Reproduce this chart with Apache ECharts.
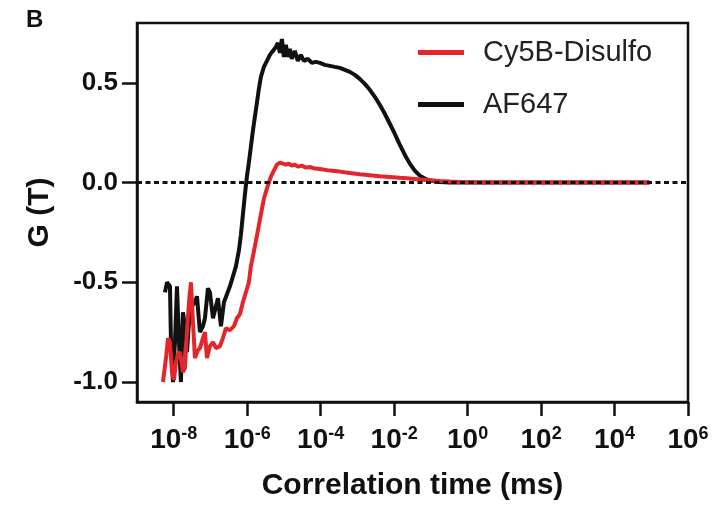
<!DOCTYPE html>
<html>
<head>
<meta charset="utf-8">
<script src="https://cdn.jsdelivr.net/npm/echarts@6/dist/echarts.min.js"></script>
<style>
  html, body { margin: 0; padding: 0; background: #fff; }
  #chart { width: 718px; height: 506px; }
</style>
</head>
<body>
<div id="chart"></div>
<script>
// correlation time (ms) and G(T)
const cyTime = [5.10e-9, 6.15e-9, 6.97e-9, 7.90e-9, 8.96e-9, 1.015e-8, 1.15e-8, 1.30e-8, 1.48e-8, 1.78e-8,
  2.02e-8, 2.29e-8, 2.60e-8, 2.94e-8, 3.34e-8, 3.78e-8, 4.56e-8, 5.17e-8, 6.24e-8, 7.07e-8,
  8.02e-8, 9.67e-8, 1.17e-7, 1.41e-7, 1.81e-7, 2.18e-7, 2.64e-7, 3.39e-7, 4.35e-7, 5.25e-7,
  6.33e-7, 7.64e-7, 9.22e-7, 1.11e-6, 1.26e-6, 1.43e-6, 1.62e-6, 1.96e-6, 2.36e-6, 2.85e-6,
  3.44e-6, 3.89e-6, 4.41e-6, 5.00e-6, 5.67e-6, 6.43e-6, 7.76e-6, 9.36e-6, 1.13e-5, 1.36e-5,
  1.64e-5, 1.98e-5, 2.39e-5, 3.08e-5, 3.95e-5, 5.08e-5, 6.95e-5, 9.50e-5, 1.78e-4, 3.33e-4,
  6.22e-4, 1.16e-3, 2.18e-3, 4.07e-3, 7.62e-3, 1.42e-2, 2.67e-2, 4.99e-2, 9.33e-2, 0.174,
  0.326, 0.611, 2.14, 7.47, 171, 3940, 9.0e4]
const cyG = [-1.00, -0.88, -0.78, -0.80, -0.95, -0.99, -0.90, -0.86, -0.85, -0.95,
  -0.93, -0.75, -0.60, -0.50, -0.70, -0.88, -0.84, -0.83, -0.78, -0.75,
  -0.88, -0.82, -0.80, -0.83, -0.82, -0.78, -0.73, -0.74, -0.72, -0.68,
  -0.66, -0.60, -0.55, -0.50, -0.42, -0.37, -0.32, -0.24, -0.16, -0.08,
  -0.03, 0.00, 0.03, 0.05, 0.07, 0.09, 0.10, 0.095, 0.09, 0.095,
  0.085, 0.09, 0.08, 0.085, 0.075, 0.078, 0.07, 0.068, 0.06, 0.055,
  0.048, 0.042, 0.037, 0.032, 0.028, 0.024, 0.02, 0.016, 0.012, 0.008,
  0.005, 0.003, 0.001, 0, 0, 0, 0]

const afTime = [5.78e-9, 6.55e-9, 7.90e-9, 8.41e-9, 9.53e-9, 1.08e-8, 1.225e-8, 1.39e-8, 1.57e-8, 1.78e-8,
  2.02e-8, 2.29e-8, 2.60e-8, 3.13e-8, 3.78e-8, 4.29e-8, 5.17e-8, 6.24e-8, 7.07e-8, 8.54e-8,
  9.67e-8, 1.17e-7, 1.41e-7, 1.60e-7, 1.93e-7, 2.33e-7, 2.81e-7, 3.39e-7, 4.09e-7, 4.93e-7,
  5.95e-7, 6.75e-7, 7.64e-7, 8.67e-7, 9.82e-7, 1.11e-6, 1.26e-6, 1.43e-6, 1.62e-6, 1.84e-6,
  2.08e-6, 2.36e-6, 2.85e-6, 3.44e-6, 4.15e-6, 5.00e-6, 6.04e-6, 6.84e-6, 7.76e-6, 8.79e-6,
  9.97e-6, 1.13e-5, 1.28e-5, 1.45e-5, 1.64e-5, 1.98e-5, 2.39e-5, 2.89e-5, 3.49e-5, 4.48e-5,
  5.76e-5, 7.39e-5, 9.50e-5, 1.30e-4, 1.78e-4, 2.43e-4, 3.33e-4, 4.55e-4, 6.22e-4, 8.51e-4,
  1.16e-3, 1.59e-3, 2.18e-3, 2.98e-3, 4.07e-3, 5.57e-3, 7.62e-3, 1.04e-2, 1.42e-2, 1.95e-2,
  2.67e-2, 3.65e-2, 4.99e-2, 6.82e-2, 9.33e-2, 0.174, 0.326, 7.47, 171, 3940, 9.0e4]
const afG = [-0.55, -0.50, -0.52, -0.80, -1.00, -0.80, -0.52, -0.80, -1.00, -0.65,
  -0.72, -0.85, -0.70, -0.62, -0.60, -0.57, -0.75, -0.72, -0.68, -0.53,
  -0.55, -0.68, -0.62, -0.58, -0.72, -0.60, -0.56, -0.52, -0.47, -0.42,
  -0.34, -0.26, -0.16, -0.06, 0.03, 0.10, 0.18, 0.26, 0.33, 0.40,
  0.47, 0.53, 0.58, 0.61, 0.64, 0.66, 0.68, 0.70, 0.65, 0.72,
  0.63, 0.69, 0.63, 0.67, 0.62, 0.66, 0.61, 0.64, 0.61, 0.62,
  0.60, 0.605, 0.60, 0.59, 0.585, 0.58, 0.575, 0.565, 0.555, 0.54,
  0.52, 0.495, 0.465, 0.43, 0.39, 0.345, 0.295, 0.245, 0.19, 0.14,
  0.095, 0.06, 0.035, 0.02, 0.01, 0.003, 0, 0, 0, 0, 0]

const xTickExps = [-8, -6, -4, -2, 0, 2, 4, 6]
const yTicks = [-1.0, -0.5, 0.0, 0.5]

const font = 'Liberation Sans, Arial, sans-serif'
const ink = '#111'

const chart = echarts.init(document.getElementById('chart'))

const option = {
    animation: false,
    graphic: [
        {
            // panel letter
            type: 'text',
            left: 26,
            top: 8,
            style: { text: 'B', font: 'bold 24px Liberation Sans, Arial, sans-serif', fill: ink }
        }
    ],
    legend: {
        data: ['Cy5B-Disulfo', 'AF647'],
        orient: 'vertical',
        left: 413,
        top: 33,
        itemWidth: 46,
        itemHeight: 5,
        itemGap: 23,
        icon: 'rect',
        textStyle: { fontFamily: font, fontSize: 29, color: '#222', padding: [0, 0, 0, 14] }
    },
    grid: {
        left: 137,
        right: 30,
        top: 23,
        bottom: 103,
        show: true,
        borderColor: ink,
        borderWidth: 2.5,
        containLabel: false
    },
    xAxis: [
        {
            type: 'log',
            logBase: 10,
            min: 1e-9,
            max: 1e6,
            axisLine: { show: true, onZero: false, lineStyle: { color: ink, width: 2.5 } },
            axisTick: { show: false },
            axisLabel: { show: false },
            splitLine: { show: false }
        },
        {
            // overlay axis in decades, only for ticks and labels
            type: 'value',
            position: 'bottom',
            min: -9,
            max: 6,
            name: 'Correlation time (ms)',
            nameLocation: 'middle',
            nameGap: 69,
            nameTextStyle: { fontFamily: font, fontSize: 30, fontWeight: 'bold', color: ink },
            axisLine: { show: false, onZero: false },
            axisTick: {
                show: true,
                customValues: xTickExps,
                length: 14,
                lineStyle: { color: ink, width: 2.5 }
            },
            axisLabel: {
                customValues: xTickExps,
                margin: 23,
                formatter: (v) => '{b|10}{s|' + v + '}',
                rich: {
                    b: { fontFamily: font, fontSize: 28, fontWeight: 'bold', color: ink, lineHeight: 30 },
                    s: { fontFamily: font, fontSize: 18, fontWeight: 'bold', color: ink, verticalAlign: 'top', lineHeight: 18 }
                }
            },
            splitLine: { show: false }
        }
    ],
    yAxis: {
        type: 'value',
        min: -1.1,
        max: 0.8,
        name: 'G (T)',
        nameLocation: 'middle',
        nameGap: 82,
        nameTextStyle: { fontFamily: font, fontSize: 30, fontWeight: 'bold', color: ink },
        axisLine: { show: true, onZero: false, lineStyle: { color: ink, width: 2.5 } },
        axisTick: {
            show: true,
            customValues: yTicks,
            length: 15,
            lineStyle: { color: ink, width: 2.5 }
        },
        axisLabel: {
            customValues: yTicks,
            margin: 19,
            formatter: (v) => v.toFixed(1),
            fontFamily: font,
            fontSize: 26,
            fontWeight: 'bold',
            color: ink
        },
        splitLine: { show: false }
    },
    series: [
        {
            name: 'AF647',
            type: 'line',
            xAxisIndex: 0,
            showSymbol: false,
            symbol: 'none',
            color: '#111',
            lineStyle: { width: 4, color: '#111' },
            data: afTime.map((t, i) => [t, afG[i]]),
            markLine: {
                silent: true,
                symbol: 'none',
                label: { show: false },
                lineStyle: { color: ink, width: 2.8, type: [5, 3.5] },
                data: [{ yAxis: 0 }]
            }
        },
        {
            name: 'Cy5B-Disulfo',
            type: 'line',
            xAxisIndex: 0,
            showSymbol: false,
            symbol: 'none',
            color: '#e3262b',
            lineStyle: { width: 4, color: '#e3262b' },
            data: cyTime.map((t, i) => [t, cyG[i]])
        }
    ]
}

chart.setOption(option)
</script>
</body>
</html>
